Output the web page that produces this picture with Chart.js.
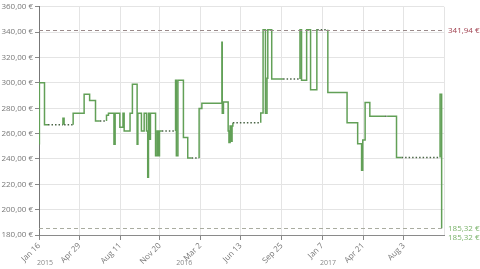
<!DOCTYPE html>
<html>
<head>
<meta charset="utf-8">
<script src="https://cdn.jsdelivr.net/npm/chart.js@4/dist/chart.umd.min.js"></script>
<style>
html,body{margin:0;padding:0;background:#fff;}
#c{display:block;}
</style>
</head>
<body>
<canvas id="c" width="480" height="269"></canvas>
<script>
// Days counted from Jan 16, 2015
const days = [0,1,14,23,61,64,87,115,129,144,155,172,177,191,194,206,214,217,232,238,250,252,261,268,274,277,279,282,284,297,301,304,307,313,348,350,354,368,379,389,408,415,466,467,470,482,484,487,489,492,494,565,571,577,581,583,593,622,665,669,682,692,708,709,736,785,812,822,825,831,843,882,887,911,924,1022,1026];
const prices = [252,300,267,267,272,267,276,291,286,270,270,274.5,276,251.6,276,265,276,262,276,299,251.6,276,262,276,262,225.5,276,255.5,276,242.5,262,242.5,262,262,302,242.5,302,257,240.7,240.7,279.7,284,332,276,285,262,253,266,254,266,268.5,276.3,341.94,276,303.6,341.94,303,303,341.94,302,341.94,294.5,341.94,341.94,292.5,268.5,252,231,255,284.6,273.7,273.7,273.7,241.2,241.2,291,185.32];
// intervals without recorded prices (start day of each; each ends at the next recorded day)
const gapStarts = [23,64,155,313,389,494,622,709,882,924];
const tickDays = [0,103,207,308,411,514,618,722,826,930];
const tickLabels = ['Jan 16','Apr 29','Aug 11','Nov 20','Mar 2','Jun 13','Sep 25','Jan 7','Apr 21','Aug 3'];
const yearStarts = [-15,350,716];
const yearLabels = ['2015','2016','2017'];
const maxPrice = 341.94;
const minPrice = 185.32;
const currentPrice = 185.32;

const fmt = v => v.toFixed(2).replace('.', ',') + ' €';

// build the series: a gap interval is closed at the next recorded day with the same price
const points = [];
const dashed = [];
days.forEach((d,i)=>{
  points.push({x:d, y:prices[i]});
  if (gapStarts.includes(d) && i < days.length-1) {
    dashed.push(true);
    points.push({x:days[i+1], y:prices[i]});
    dashed.push(false);
  } else {
    dashed.push(false);
  }
});

const FONT = '"Open Sans", "Liberation Sans", sans-serif';

const extras = {
  id:'extras',
  beforeDatasetsDraw(chart){
    const {ctx, chartArea:a} = chart;
    ctx.save();
    ctx.strokeStyle = '#e4e4e4';
    ctx.lineWidth = 1;
    ctx.beginPath();
    ctx.moveTo(Math.round(a.right)+0.5, a.top);
    ctx.lineTo(Math.round(a.right)+0.5, a.bottom);
    ctx.stroke();
    ctx.restore();
  },
  afterDatasetsDraw(chart){
    const {ctx, chartArea:a, scales:{x,y}} = chart;
    ctx.save();
    ctx.lineWidth = 1;
    ctx.setLineDash([4,3]);
    const yMax = Math.round(y.getPixelForValue(maxPrice))+0.5;
    ctx.strokeStyle = '#9a8a8a';
    ctx.beginPath(); ctx.moveTo(a.left, yMax); ctx.lineTo(a.right, yMax); ctx.stroke();
    const yMin = Math.round(y.getPixelForValue(minPrice))+0.5;
    ctx.strokeStyle = '#a9aca0';
    ctx.beginPath(); ctx.moveTo(a.left, yMin); ctx.lineTo(a.right, yMin); ctx.stroke();
    ctx.setLineDash([]);
    ctx.font = '8px ' + FONT;
    ctx.textAlign = 'left';
    ctx.textBaseline = 'middle';
    ctx.fillStyle = '#a0404f';
    ctx.fillText(fmt(maxPrice), a.right + 4, yMax);
    ctx.fillStyle = '#7bb36b';
    ctx.fillText(fmt(minPrice), a.right + 4, yMin);
    ctx.fillText(fmt(currentPrice), a.right + 4, yMin + 9);
    // year labels
    ctx.fillStyle = '#888';
    ctx.font = '7px ' + FONT;
    yearStarts.forEach((d,i)=>{
      const px = Math.max(x.getPixelForValue(d), a.left - 2);
      ctx.fillText(yearLabels[i], px, 263);
    });
    ctx.restore();
  }
};

new Chart(document.getElementById('c'), {
  type:'line',
  data:{datasets:[{
    data: points,
    stepped: true,
    borderColor:'#62a057',
    borderWidth:1.5,
    pointRadius:0,
    fill:false,
    segment:{
      borderDash: c => dashed[c.p0DataIndex] ? [1.5,2] : undefined,
      borderColor: c => dashed[c.p0DataIndex] ? '#4a6446' : undefined
    }
  }]},
  plugins:[extras],
  options:{
    responsive:false,
    devicePixelRatio:1,
    animation:false,
    layout:{padding:{top:4,right:36,left:0,bottom:0}},
    plugins:{legend:{display:false},tooltip:{enabled:false}},
    scales:{
      x:{
        type:'linear', min:0, max:1032,
        afterBuildTicks: s => { s.ticks = tickDays.map(v=>({value:v})); },
        afterFit: s => { s.height = 34; },
        ticks:{
          autoSkip:false, minRotation:45, maxRotation:45, padding:1,
          color:'#777', font:{family:FONT, size:8},
          callback:(v,i)=>tickLabels[i]
        },
        grid:{color:'#e4e4e4', tickLength:5, tickColor:'#888'},
        border:{color:'#8a8a8a', width:1}
      },
      y:{
        min:180, max:360,
        afterFit: s => { s.width = 39; },
        ticks:{stepSize:20, padding:2, color:'#777', font:{family:FONT, size:8}, callback:v=>fmt(v)},
        grid:{color:'#e4e4e4', tickLength:4, tickColor:'#888'},
        border:{color:'#777', width:1}
      }
    }
  }
});
</script>
</body>
</html>
